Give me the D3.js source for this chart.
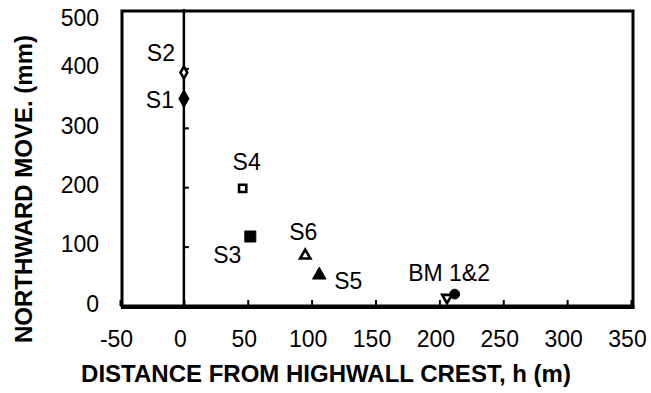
<!DOCTYPE html>
<html>
<head>
<meta charset="utf-8">
<script src="https://cdn.jsdelivr.net/npm/d3@7"></script>
<style>
  body { margin: 0; background: #fff; }
  text { font-family: "Liberation Sans", Arial, Helvetica, sans-serif; fill: #000; }
</style>
</head>
<body>
<svg width="651" height="393"></svg>
<script>
// data
var stations  = ["S1", "S2", "S3", "S4", "S5", "S6", "BM1", "BM2"];
var distance  = [0, 0, 52, 46, 106, 95, 206, 212];     // h (m)
var northMove = [349, 393, 117, 198, 52, 85, 14, 20];   // mm
var xTicks = [-50, 0, 50, 100, 150, 200, 250, 300, 350];
var yTicks = [0, 100, 200, 300, 400, 500];
var labelText = ["S1", "S2", "S3", "S4", "S5", "S6", "BM 1&2"];

// marker styling per station
var shapes = [d3.symbolDiamond, d3.symbolDiamond, d3.symbolSquare, d3.symbolSquare,
              d3.symbolTriangle, d3.symbolTriangle, d3.symbolTriangle, d3.symbolCircle];
var filled = [true, false, true, false, true, false, false, true];
var sizes  = [90, 40, 121, 52, 80, 46, 40, 75];
var rotate = [0, 0, 0, 0, 0, 0, 180, 0];
// label offset from its station marker [dx, dy to baseline]
var labelOffsets = [[-24, 9], [-23, -12], [-23, 26], [4, -18], [29, 14], [-2, -16], [2, -17]];

var svg = d3.select("svg"),
    x = d3.scaleLinear().domain([-50, 350]).range([120, 631]),
    y = d3.scaleLinear().domain([0, 500]).range([306, 9]);

var data = stations.map(function(s, i) {
  return {name: s, h: distance[i], v: northMove[i]};
});

// zero (highwall crest) line
svg.append("line")
    .attr("x1", x(0)).attr("x2", x(0))
    .attr("y1", y(500)).attr("y2", y(0))
    .style("stroke", "#000").style("stroke-width", 2.5);

// y ticks on the crest line, pointing right
svg.append("g")
    .attr("transform", "translate(" + x(0) + ",0)")
    .call(d3.axisRight(y).tickValues(yTicks.slice(1, 5)).tickSize(5).tickFormat(""))
    .call(function(g) { g.select(".domain").remove(); })
    .selectAll("line").style("stroke-width", 2);

// x ticks on bottom, pointing up, with labels below
var xg = svg.append("g")
    .attr("transform", "translate(0," + y(0) + ")")
    .call(d3.axisBottom(x).tickValues(xTicks).tickFormat(String)
      .tickSizeInner(-6).tickSizeOuter(0).tickPadding(25));
xg.select(".domain").remove();
xg.selectAll("line").style("stroke-width", 2);
xg.selectAll("text")
    .attr("dx", -4)
    .style("font-size", "23px");

// y labels on the left
var yg = svg.append("g")
    .attr("transform", "translate(" + x(-50) + ",0)")
    .call(d3.axisLeft(y).tickValues(yTicks).tickSize(0).tickPadding(21));
yg.select(".domain").remove();
yg.selectAll("text")
    .style("font-size", "23px")
    .attr("y", function(d) { return Math.max(-2, 18 - y(d)); });

// frame
svg.append("rect")
    .attr("x", x(-50) + 2).attr("y", y(500) + 2)
    .attr("width", x(350) - x(-50)).attr("height", y(0) - y(500) - 2)
    .style("fill", "none").style("stroke", "#000").style("stroke-width", 3);
svg.append("line")
    .attr("x1", x(-50) + 1).attr("x2", x(350) + 3.5)
    .attr("y1", y(0) + 1).attr("y2", y(0) + 1)
    .style("stroke", "#000").style("stroke-width", 4);

// markers
svg.selectAll(".pt")
  .data(data)
  .enter().append("path")
    .attr("class", "pt")
    .attr("d", function(d, i) { return d3.symbol().type(shapes[i]).size(sizes[i])(); })
    .attr("transform", function(d, i) {
      var t = "translate(" + x(d.h) + "," + y(d.v) + ")";
      if (rotate[i]) t += " rotate(" + rotate[i] + ")";
      return t;
    })
    .style("fill", function(d, i) { return filled[i] ? "#000" : "#fff"; })
    .style("stroke", "#000")
    .style("stroke-width", function(d, i) { return filled[i] ? 1 : 2.6; });

// station labels
svg.selectAll(".lbl")
  .data(labelText)
  .enter().append("text")
    .attr("class", "lbl")
    .attr("x", function(d, i) { return x(data[i].h) + labelOffsets[i][0]; })
    .attr("y", function(d, i) { return y(data[i].v) + labelOffsets[i][1]; })
    .attr("text-anchor", "middle")
    .style("font-size", "23px")
    .text(function(d) { return d; });

// axis titles
svg.append("text")
    .attr("x", 326).attr("y", 382)
    .attr("text-anchor", "middle")
    .style("font-size", "24px").style("font-weight", "bold")
    .text("DISTANCE FROM HIGHWALL CREST, h (m)");

svg.append("text")
    .attr("transform", "translate(32,189) rotate(-90)")
    .attr("text-anchor", "middle")
    .style("font-size", "24px").style("font-weight", "bold")
    .text("NORTHWARD MOVE. (mm)");
</script>
</body>
</html>
